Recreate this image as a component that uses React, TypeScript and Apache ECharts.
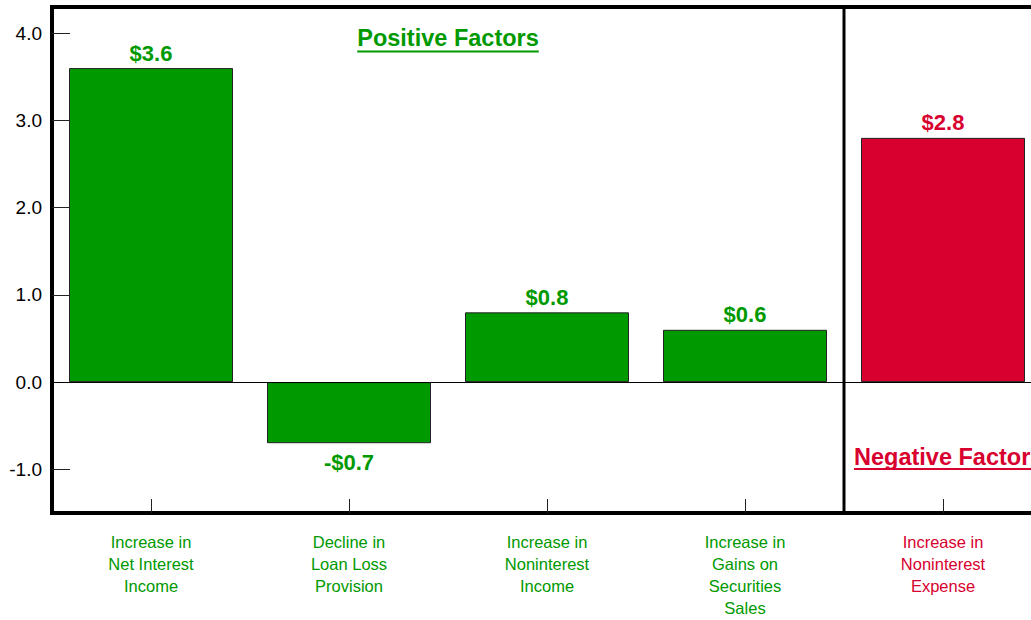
import React, { useEffect, useRef } from "react";
import * as echarts from "echarts";

// Year-over-year change in earnings drivers ($ millions)
const categories = [
  "Increase in\nNet Interest\nIncome",
  "Decline in\nLoan Loss\nProvision",
  "Increase in\nNoninterest\nIncome",
  "Increase in\nGains on\nSecurities\nSales",
  "Increase in\nNoninterest\nExpense",
];
const values = [3.6, -0.7, 0.8, 0.6, 2.8];
const factorKinds = ["positive", "positive", "positive", "positive", "negative"];
const groupTitles = { positive: "Positive Factors", negative: "Negative Factors" };
const Y_MIN = -1.5;
const Y_MAX = 4.3;

const GREEN = "#009900";
const RED = "#d8002e";
const FONT = '"Liberation Sans", Arial, Helvetica, sans-serif';

const colorOf = (i: number) => (factorKinds[i] === "positive" ? GREEN : RED);
const money = (v: number) => (v < 0 ? `-$${Math.abs(v).toFixed(1)}` : `$${v.toFixed(1)}`);

function textWidth(text: string, font: string): number {
  const ctx = document.createElement("canvas").getContext("2d");
  if (!ctx) return text.length * 12;
  ctx.font = font;
  return ctx.measureText(text).width;
}

export default function App() {
  const ref = useRef<HTMLDivElement>(null);

  useEffect(() => {
    if (!ref.current) return;
    const chart = echarts.init(ref.current, null, { renderer: "svg" });

    const gridLeft = 52;
    const gridTop = 7;
    const gridHeight = 506;

    chart.setOption({
      animation: false,
      backgroundColor: "#fff",
      grid: {
        left: gridLeft,
        top: gridTop,
        width: 990,
        height: gridHeight,
        show: true,
        borderColor: "#000",
        borderWidth: 4,
        backgroundColor: "transparent",
        containLabel: false,
      },
      xAxis: {
        type: "category",
        data: categories,
        position: "bottom",
        axisLine: { show: false, onZero: false },
        axisTick: {
          show: true,
          inside: true,
          length: 14,
          alignWithLabel: true,
          lineStyle: { color: "#222", width: 1 },
        },
        axisLabel: {
          interval: 0,
          margin: 18,
          fontSize: 16.5,
          lineHeight: 22,
          fontFamily: FONT,
          color: (_v: string, i: number) => colorOf(i),
        },
        splitLine: { show: false },
      },
      yAxis: {
        type: "value",
        min: Y_MIN,
        max: Y_MAX,
        minInterval: 1,
        maxInterval: 1,
        axisLine: { show: false },
        axisTick: {
          show: true,
          inside: true,
          length: 18,
          lineStyle: { color: "#222", width: 1 },
        },
        axisLabel: {
          margin: 10,
          fontSize: 19,
          fontFamily: FONT,
          color: "#000",
          showMinLabel: false,
          showMaxLabel: false,
          formatter: (v: number) => (Number.isInteger(v) ? v.toFixed(1) : ""),
        },
        splitLine: { show: false },
      },
      series: [
        {
          type: "bar",
          barWidth: 164,
          data: values.map((v, i) => ({
            value: v,
            itemStyle: { color: colorOf(i), borderColor: "#222", borderWidth: 1 },
            label: {
              position: v >= 0 ? "top" : "bottom",
              distance: v >= 0 ? 4 : 8,
              color: colorOf(i),
            },
          })),
          label: {
            show: true,
            fontSize: 22,
            fontWeight: "bold",
            fontFamily: FONT,
            formatter: (p: any) => money(p.value),
          },
          markLine: {
            silent: true,
            symbol: "none",
            label: { show: false },
            lineStyle: { color: "#000", width: 1, type: "solid" },
            data: [{ yAxis: 0 }],
          },
        },
      ],
    });

    // Divider between positive and negative factors, plus group headings
    const xc = categories.map((_, i) => chart.convertToPixel({ xAxisIndex: 0 }, i) as number);
    const yTop = chart.convertToPixel({ yAxisIndex: 0 }, Y_MAX) as number;
    const yBottom = chart.convertToPixel({ yAxisIndex: 0 }, Y_MIN) as number;
    const splitX = (xc[3] + xc[4]) / 2;
    const posCenter = (gridLeft + splitX) / 2;
    const negLeft = splitX + 10;

    const headFont = `bold 23.5px ${FONT}`;
    const posW = textWidth(groupTitles.positive, headFont);
    const negW = textWidth(groupTitles.negative, headFont);

    const heading = (text: string, x: number, y: number, color: string, align: string) => ({
      type: "text",
      x,
      y,
      silent: true,
      style: {
        text,
        fill: color,
        fontSize: 23.5,
        fontWeight: "bold",
        fontFamily: FONT,
        align,
        verticalAlign: "middle",
      },
    });
    const underline = (x1: number, w: number, y: number, color: string) => ({
      type: "line",
      silent: true,
      shape: { x1, y1: y, x2: x1 + w, y2: y },
      style: { stroke: color, lineWidth: 2 },
    });

    chart.setOption({
      graphic: [
        {
          type: "line",
          silent: true,
          shape: { x1: splitX, y1: yTop, x2: splitX, y2: yBottom },
          style: { stroke: "#000", lineWidth: 3 },
        },
        heading(groupTitles.positive, posCenter, 38, GREEN, "center"),
        underline(posCenter - posW / 2, posW, 51.5, GREEN),
        heading(groupTitles.negative, negLeft, 456.5, RED, "left"),
        underline(negLeft, negW, 469, RED),
      ],
    });

    return () => chart.dispose();
  }, []);

  return (
    <div
      style={{
        position: "fixed",
        left: 0,
        top: 0,
        width: 1031,
        height: 620,
        overflow: "hidden",
        background: "#fff",
      }}
    >
      <div ref={ref} style={{ width: 1060, height: 620 }} />
    </div>
  );
}
